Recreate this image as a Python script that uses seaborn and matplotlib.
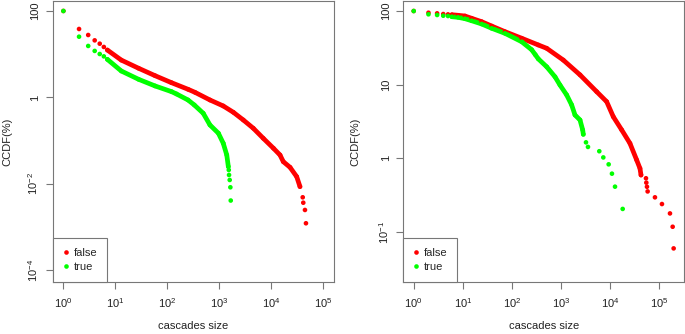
import pandas as pd
import matplotlib
matplotlib.use('Agg')
import matplotlib.pyplot as plt
import seaborn as sns

# values (cascade size, CCDF in %)
left_false_size = [1, 2, 3, 4, 5, 6, 7, 13, 28, 58, 120, 250, 340, 660, 1190, 1860, 2890,
                   4500, 7000, 11000, 14700, 17000, 22900, 30800, 35600,
                   40200, 41200, 44400, 46400]
left_false_ccdf = [100, 38.3, 27.8, 20.9, 17.5, 14.7, 12.5, 7.3, 4.72, 3.18, 2.19, 1.54, 1.31,
                   0.871, 0.633, 0.452, 0.300, 0.193, 0.113, 0.0664, 0.0464, 0.0325, 0.0241,
                   0.0146, 0.0086, 0.00487, 0.00365, 0.00248, 0.00122]

left_true_size = [1, 2, 3, 4, 5, 6, 7, 13, 28, 58, 120, 150, 250, 330, 490, 660, 960, 1190,
                  1390, 1490, 1520, 1537, 1583, 1630, 1657]
left_true_ccdf = [100, 25.4, 15.5, 11.9, 10.1, 8.9, 7.6, 4.08, 2.62, 1.84, 1.36, 1.2, 0.87,
                  0.667, 0.429, 0.23, 0.148, 0.0867, 0.0464, 0.0249, 0.0209, 0.016, 0.01225,
                  0.0083, 0.0041]

right_false_size = [1, 2, 3, 4, 5, 6, 8, 11.1, 15.2, 24.3, 38.9, 72.6, 159, 347, 514, 1120,
                    2455, 5370, 8590, 11700, 17400, 25600, 35100, 41000, 43000,
                    54300, 55200, 56900, 58700, 82800, 115000, 167500, 190000, 199000]
right_false_ccdf = [100, 94.8, 93, 91, 90, 89, 87.5, 85.5, 79.6, 71.6, 62.5, 52.4, 42.7, 34.6,
                    31.2, 21.6, 13.6, 8.04, 5.88, 3.68, 2.43, 1.6, 0.95, 0.73, 0.594,
                    0.537, 0.468, 0.412, 0.356, 0.296, 0.24, 0.179, 0.118, 0.06]

right_true_size = [1, 2, 3, 4, 5, 6, 8, 11.1, 15.2, 24.3, 38.9, 72.6, 159, 254, 300, 347, 514,
                   759, 959, 1314, 1660, 1940, 2455, 2786, 2866, 3250, 3570,
                   6070, 7330, 9420, 11000, 12700, 18200]
right_true_ccdf = [100, 90.2, 88.3, 86.3, 85.5, 83.7, 82.2, 78.7, 73.8, 66.7, 58.3, 49.8, 38.3,
                   29.8, 25.6, 22.4, 17.5, 12.8, 9.9, 7.25, 5.31, 3.88, 3.32, 2.43, 2.12, 1.65,
                   1.43, 1.25, 1.03, 0.83, 0.62, 0.413, 0.206]

# index ranges where the points overlap into a solid band
left_false_dense = (6, 25)
left_true_dense = (6, 20)
right_false_dense = (5, 25)
right_true_dense = (5, 25)

x_ticks = [1, 10, 100, 1000, 10000, 100000]
x_labels = ['$10^{0}$', '$10^{1}$', '$10^{2}$', '$10^{3}$', '$10^{4}$', '$10^{5}$']
left_y_ticks = [100, 1, 0.01, 0.0001]
left_y_labels = ['100', '1', '$10^{-2}$', '$10^{-4}$']
right_y_ticks = [100, 10, 1, 0.1]
right_y_labels = ['100', '10', '1', '$10^{-1}$']

sns.set_style('white')
plt.rcParams['font.family'] = ['Liberation Sans', 'DejaVu Sans']
plt.rcParams['mathtext.fontset'] = 'custom'
plt.rcParams['mathtext.rm'] = 'Liberation Sans'
plt.rcParams['mathtext.it'] = 'Liberation Sans'
plt.rcParams['axes.unicode_minus'] = True

palette = {'false': '#ff0000', 'true': '#00ff00'}
frame_col = '#777777'
text_col = '#222222'
fs = 8


def build(fs_, fc_, ts_, tc_):
    df = pd.DataFrame({
        'size': fs_ + ts_,
        'ccdf': fc_ + tc_,
        'type': ['false'] * len(fs_) + ['true'] * len(ts_),
    })
    return df


def panel(ax, df, dense_f, dense_t, xlim, ylim, yticks, ylabels, ylab_x):
    d_f = df[df['type'] == 'false'].iloc[dense_f[0]:dense_f[1]]
    d_t = df[df['type'] == 'true'].iloc[dense_t[0]:dense_t[1]]
    for d in (d_f, d_t):
        sns.lineplot(data=d, x='size', y='ccdf', hue='type', palette=palette, ax=ax,
                     legend=False, sort=False, estimator=None, linewidth=3.4,
                     solid_capstyle='round', solid_joinstyle='round')
    sns.scatterplot(data=df, x='size', y='ccdf', hue='type', palette=palette, ax=ax,
                    s=11, linewidth=0, zorder=3)
    ax.set_xscale('log')
    ax.set_yscale('log')
    ax.set_xlim(xlim)
    ax.set_ylim(ylim)
    ax.set_xticks(x_ticks)
    ax.set_xticklabels(x_labels)
    ax.set_yticks(yticks)
    ax.set_yticklabels(ylabels, rotation=90, va='center')
    ax.minorticks_off()
    ax.tick_params(axis='both', direction='out', length=5, width=0.8, color=frame_col,
                   labelsize=fs, labelcolor=text_col, bottom=True, left=True)
    ax.tick_params(axis='x', pad=5)
    ax.tick_params(axis='y', pad=4)
    for sp in ax.spines.values():
        sp.set_color(frame_col)
        sp.set_linewidth(0.8)
    ax.set_xlabel('cascades size', fontsize=fs, color=text_col)
    ax.set_ylabel('CCDF(%)', fontsize=fs, color=text_col)
    ax.xaxis.set_label_coords(0.5, -0.14)
    ax.yaxis.set_label_coords(ylab_x, 0.5)
    sns.move_legend(ax, 'lower left', bbox_to_anchor=(0, 0), title=None, frameon=True,
                    fancybox=False, edgecolor=frame_col, framealpha=1, borderaxespad=0,
                    fontsize=fs, handlelength=0.5, handletextpad=0.45,
                    borderpad=0.9, labelspacing=0.35, markerscale=1.0)
    ax.get_legend().get_frame().set_linewidth(0.8)


fig = plt.figure(figsize=(6.85, 3.34), dpi=100)
ax1 = fig.add_axes([53 / 685, 52 / 334, 281 / 685, 281 / 334])
ax2 = fig.add_axes([403.3 / 685, 52 / 334, 280.7 / 685, 281 / 334])

df_left = build(left_false_size, left_false_ccdf, left_true_size, left_true_ccdf)
df_right = build(right_false_size, right_false_ccdf, right_true_size, right_true_ccdf)

panel(ax1, df_left, left_false_dense, left_true_dense,
      (10 ** -0.2, 10 ** 5.206), (10 ** -4.273, 10 ** 2.231),
      left_y_ticks, left_y_labels, -0.145)
panel(ax2, df_right, right_false_dense, right_true_dense,
      (10 ** -0.212, 10 ** 5.51), (10 ** -1.678, 10 ** 2.136),
      right_y_ticks, right_y_labels, -0.152)

fig.savefig('out.png', dpi=100)
